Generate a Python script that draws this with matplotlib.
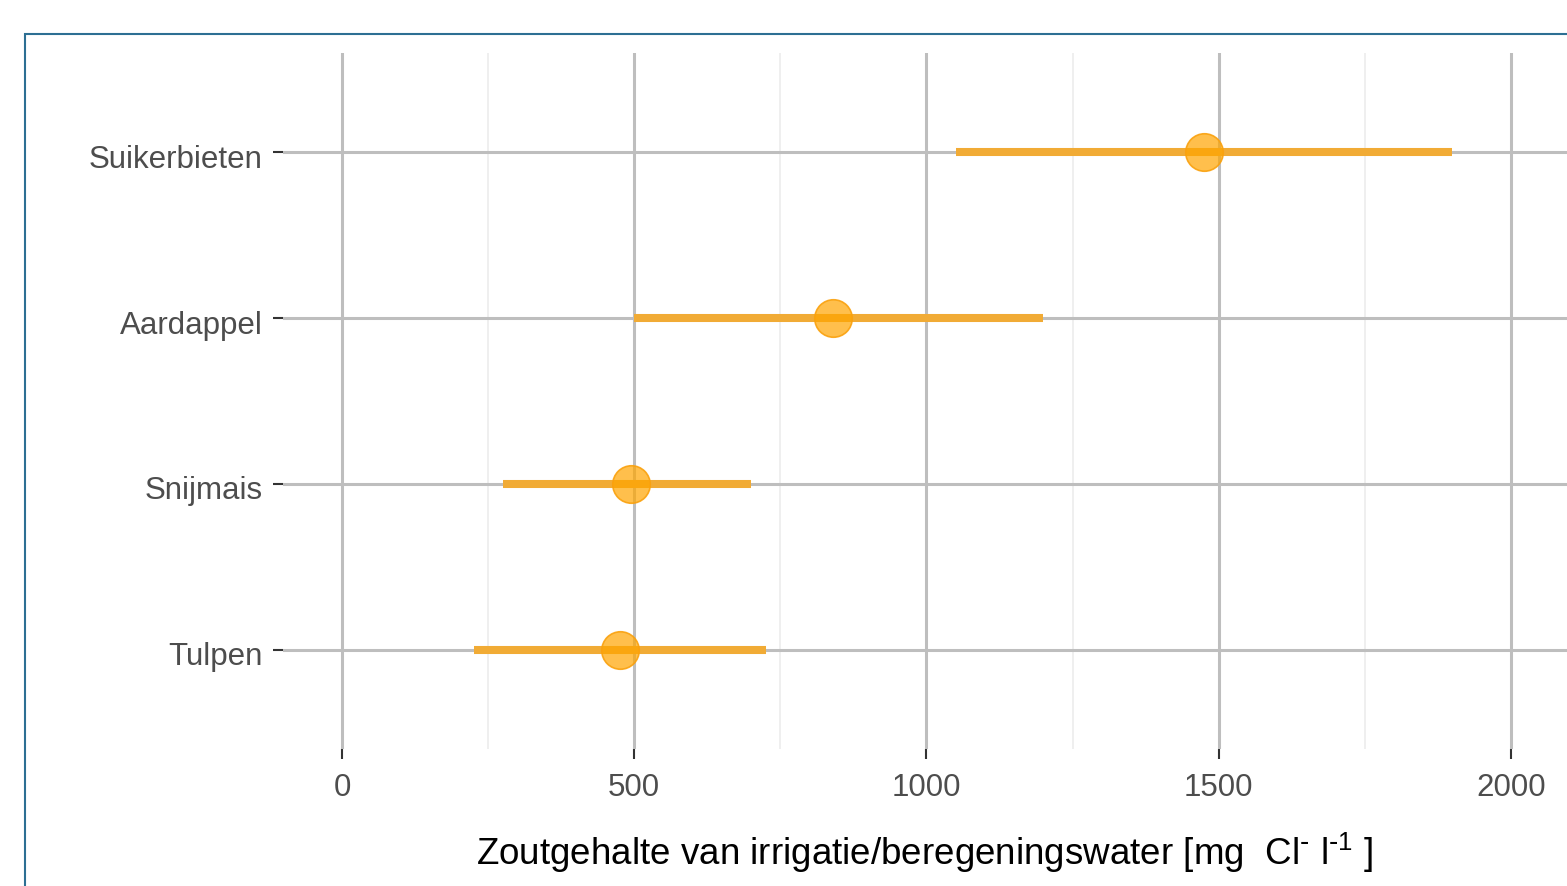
import numpy as np
import matplotlib
matplotlib.use('Agg')
import matplotlib.pyplot as plt
import matplotlib.transforms as mtransforms
from matplotlib.patches import Rectangle

plt.rcParams['font.family'] = ['Liberation Sans', 'DejaVu Sans']
plt.rcParams['mathtext.fontset'] = 'custom'
plt.rcParams['mathtext.default'] = 'regular'

# --------------------- 数据 ---------------------
gewassen = ['Tulpen', 'Snijmais', 'Aardappel', 'Suikerbieten']
laag = [225, 275, 500, 1050]
midden = [475, 495, 840, 1475]
hoog = [725, 700, 1200, 1900]

major_ticks = [0, 500, 1000, 1500, 2000]
minor_ticks = [250, 750, 1250, 1750]

W, H = 1567, 887
fig = plt.figure(figsize=(W / 100, H / 100), dpi=100)

# 外框
fig.patches.append(Rectangle((25 / W, -0.1), 1.2, 1 - 35 / H + 0.1, transform=fig.transFigure,
                             fill=False, edgecolor='#2d6f93', linewidth=1.5))

ax = fig.add_axes([283 / W, 1 - 750 / H, 1 - 283 / W, (750 - 54) / H])
ax.set_xlim(-101, 2096)
ax.set_ylim(0.4, 4.6)
ax.set_facecolor('none')
for s in ax.spines.values():
    s.set_visible(False)

y = np.arange(1, len(gewassen) + 1)

# 网格线
for v in minor_ticks:
    ax.axvline(v, color='#ebebeb', lw=1.1, zorder=0)
for v in major_ticks:
    ax.axvline(v, color='#bebebe', lw=2.2, zorder=1)
for v in y:
    ax.axhline(v, color='#bebebe', lw=2.2, zorder=1)

# 区间线与点
ax.hlines(y, laag, hoog, color='#f1ab35', lw=5.8, zorder=3)
ax.plot(midden, y, 'o', ms=27, markerfacecolor=(1, 0.647, 0, 0.7),
        markeredgecolor=(0.98, 0.63, 0.05, 0.9), markeredgewidth=1.2, zorder=4)

ax.set_xticks(major_ticks)
ax.set_xticklabels([str(t) for t in major_ticks])
ax.set_yticks(y)
ax.set_yticklabels(gewassen)
ax.tick_params(axis='both', length=7.5, width=1.5, color='#333333',
               labelcolor='#4d4d4d', labelsize=22.5)
ax.tick_params(axis='x', pad=9)
ax.tick_params(axis='y', pad=7)

# y 轴标签稍微下移
shift = mtransforms.ScaledTranslation(0, -3 / 100, fig.dpi_scale_trans)
for lbl in ax.get_yticklabels():
    lbl.set_transform(lbl.get_transform() + shift)

ax.set_xlabel(r'Zoutgehalte van irrigatie/beregeningswater [mg  Cl$^{\text{-}}$ l$^{\text{-}1}$ ]',
              fontsize=26.5, color='black', labelpad=20)

fig.savefig('out.png', dpi=100)
